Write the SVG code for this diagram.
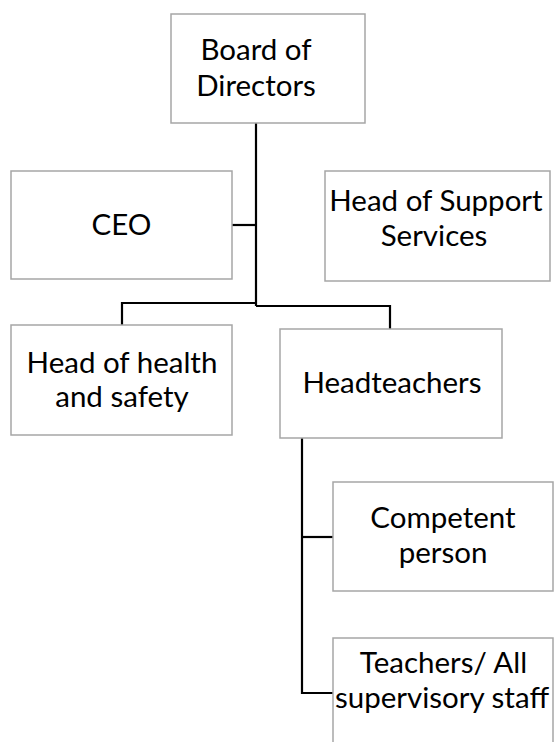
<svg xmlns="http://www.w3.org/2000/svg" width="554" height="742" viewBox="0 0 554 742">
<style>
.box{fill:#fff;stroke:#a6a6a6;stroke-width:1.5}
.t{font-family:Lato,"Open Sans",sans-serif;font-size:29.5px;fill:#000;text-anchor:middle}
.c{fill:none;stroke:#000;stroke-width:2.2}
</style>
<rect width="554" height="742" fill="#fff"/>
<g id="connectors">
<polyline class="c" points="256,123 256,306"/>
<polyline class="c" points="232,225 256,225"/>
<polyline class="c" points="122,325 122,303 256,303"/>
<polyline class="c" points="256,306 390,306 390,329"/>
<polyline class="c" points="302,438 302,693 333,693"/>
<polyline class="c" points="302,537 333,537"/>
</g>
<g id="board">
<rect class="box" x="171" y="14" width="194" height="109"/>
<text class="t" x="256" y="60">Board of</text>
<text class="t" x="256" y="95.5">Directors</text>
</g>
<g id="ceo">
<rect class="box" x="11" y="171" width="221" height="108"/>
<text class="t" x="121.5" y="235">CEO</text>
</g>
<g id="support">
<rect class="box" x="325" y="171" width="225" height="110"/>
<text class="t" x="436" y="211">Head of Support</text>
<text class="t" x="434" y="246">Services</text>
</g>
<g id="health">
<rect class="box" x="11" y="325" width="221" height="110"/>
<text class="t" x="122" y="373">Head of health</text>
<text class="t" x="122" y="407">and safety</text>
</g>
<g id="headteachers">
<rect class="box" x="280" y="329" width="222" height="109"/>
<text class="t" x="392" y="393">Headteachers</text>
</g>
<g id="competent">
<rect class="box" x="333" y="482" width="220" height="109"/>
<text class="t" x="443" y="528">Competent</text>
<text class="t" x="443" y="563">person</text>
</g>
<g id="teachers">
<rect class="box" x="333" y="638" width="220" height="110"/>
<text class="t" x="443.5" y="673">Teachers/ All</text>
<text class="t" x="442" y="708">supervisory staff</text>
</g>
</svg>
